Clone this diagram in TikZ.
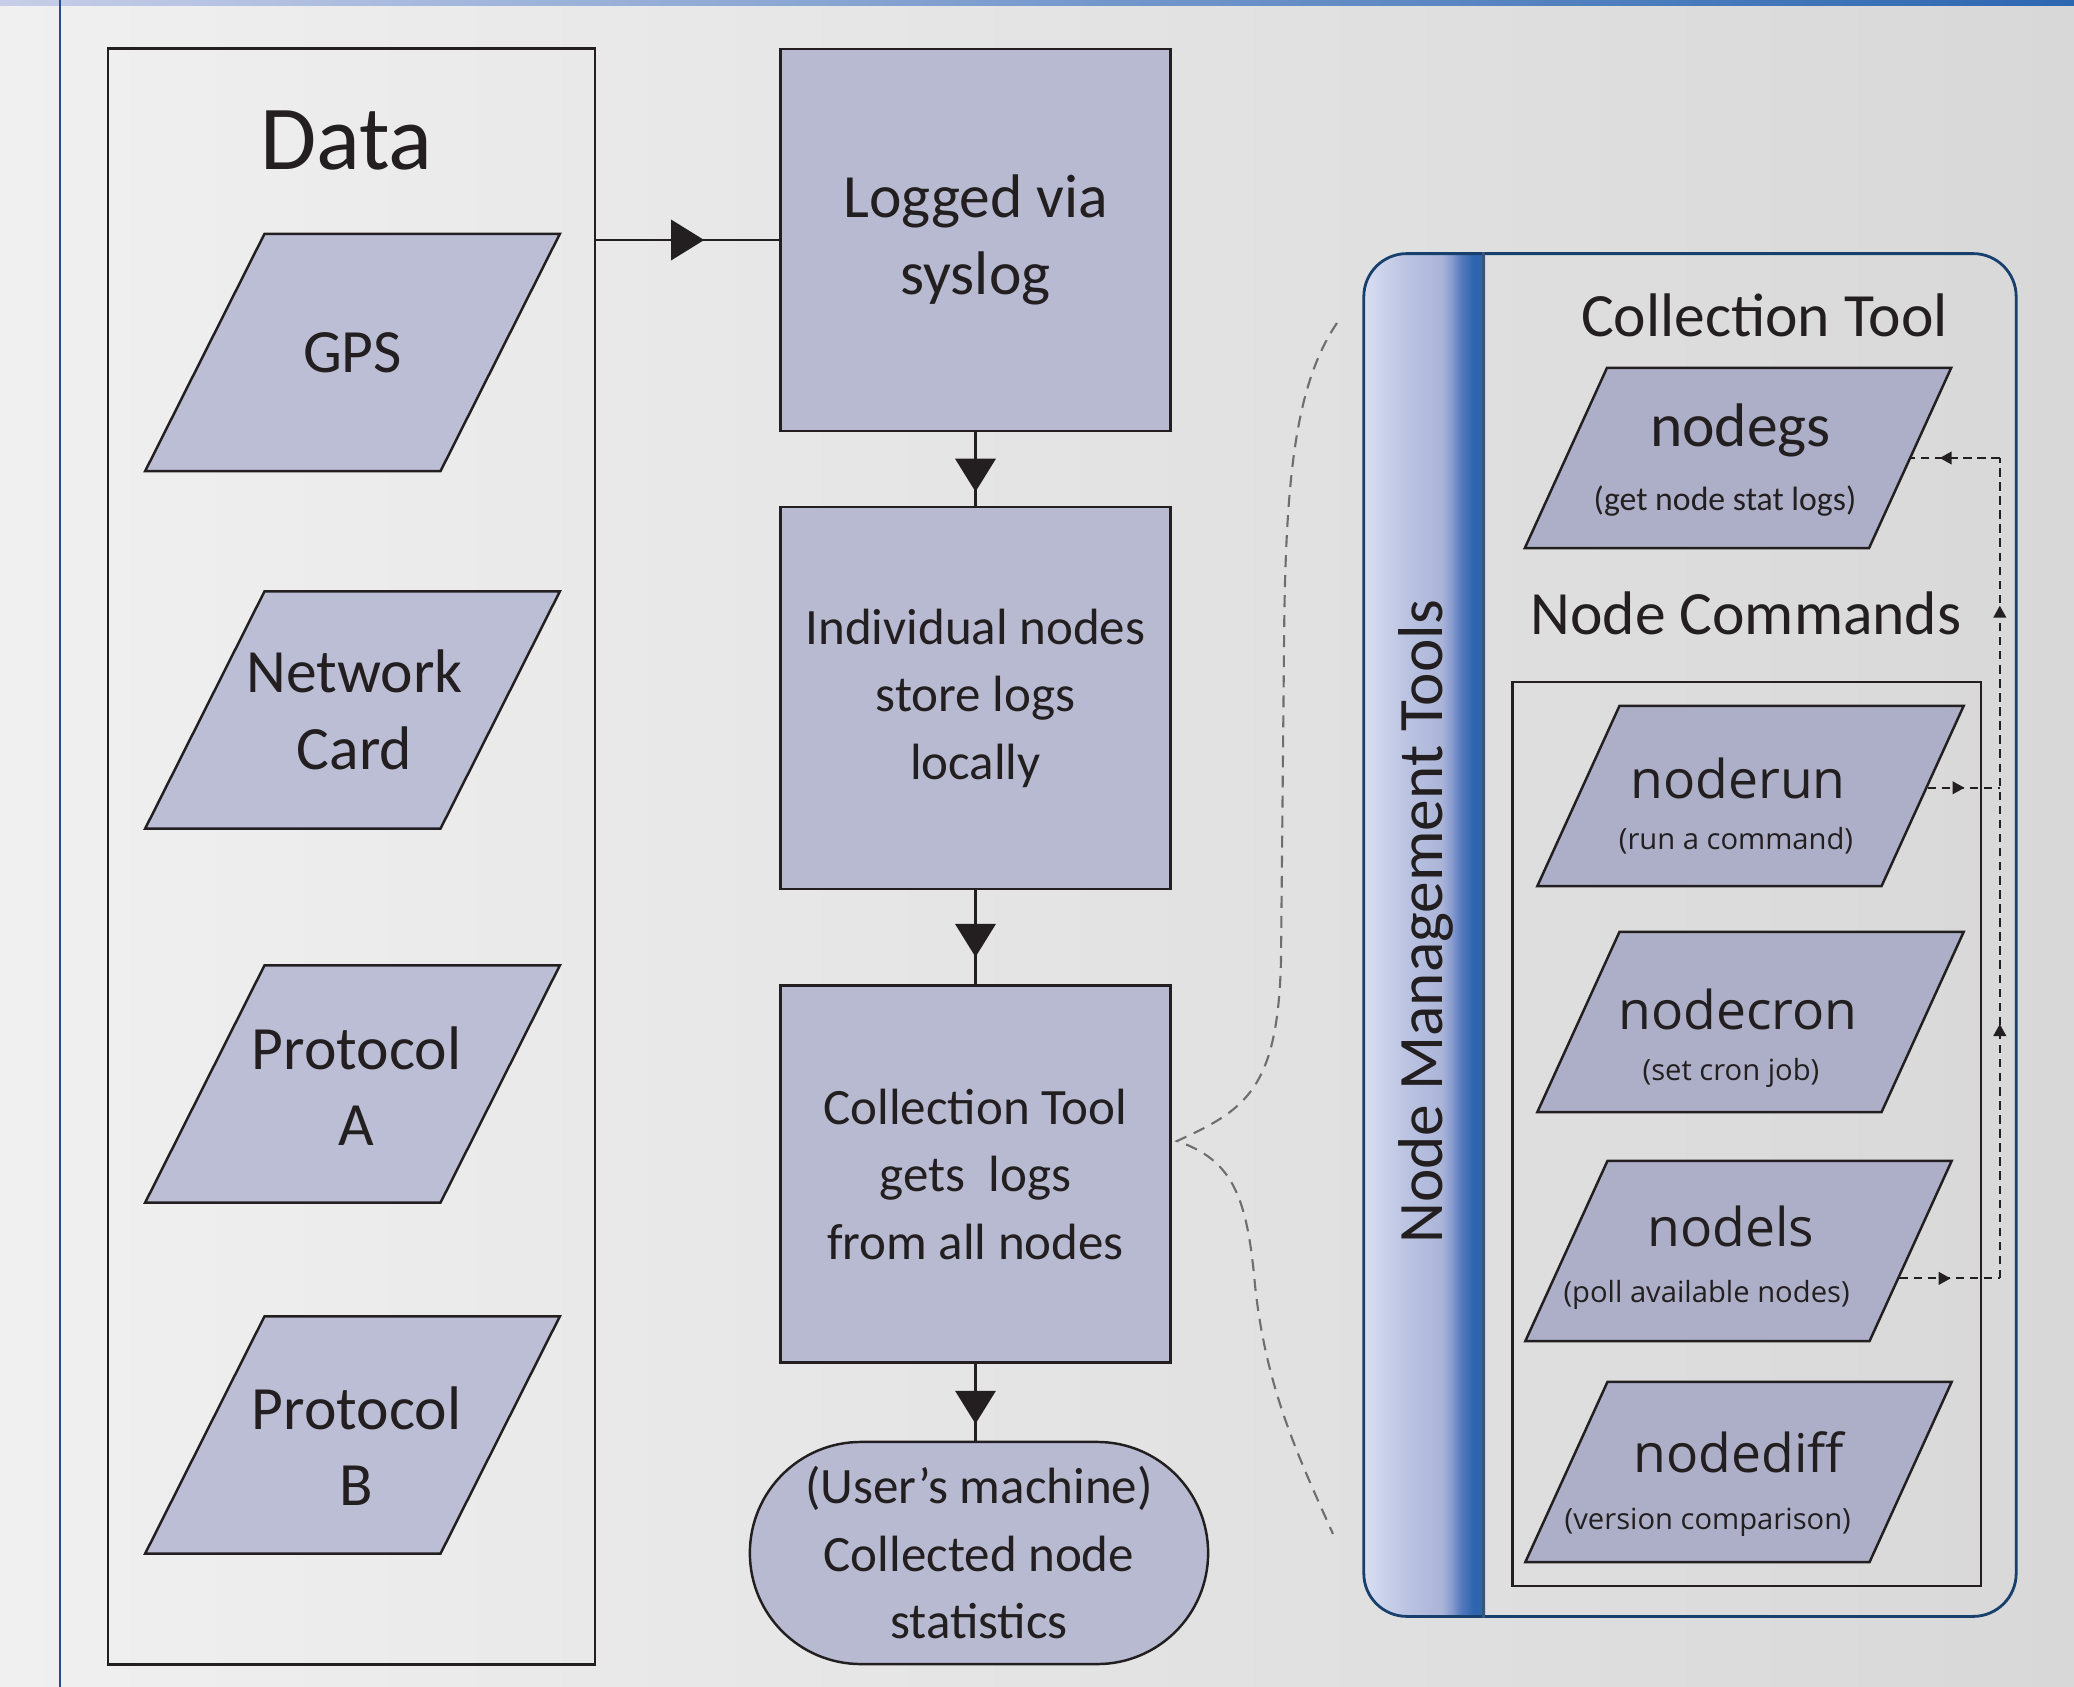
\documentclass[tikz,border=0pt]{standalone}
\usepackage{fontspec}
\setmainfont{Carlito}
\newfontfamily\cmdfont{Open Sans}
\usetikzlibrary{shapes.geometric,shapes.misc,arrows.meta,decorations.markings,calc}

% colours
\definecolor{bgleft}{HTML}{F0F0F0}
\definecolor{bgright}{HTML}{D8D8D8}
\definecolor{bandleft}{HTML}{C6CEE8}
\definecolor{bandright}{HTML}{2C67B1}
\definecolor{rimblue}{HTML}{2B4A8A}
\definecolor{ink}{HTML}{231F20}
\definecolor{datafill}{HTML}{BCBED5}
\definecolor{stepfill}{HTML}{B7BAD0}
\definecolor{cmdfill}{HTML}{ACAFC7}
\definecolor{panelrim}{HTML}{17406D}
\definecolor{stripA}{HTML}{D9DEF1}
\definecolor{stripB}{HTML}{BCC4E2}
\definecolor{stripC}{HTML}{ABB5D8}
\definecolor{stripD}{HTML}{8A9DD0}
\definecolor{stripE}{HTML}{5779BD}
\definecolor{stripF}{HTML}{2F65AF}
\definecolor{stripedge}{HTML}{3B5578}
\definecolor{bracegray}{HTML}{6E6E6E}

\pgfdeclarehorizontalshading{mgmtstrip}{100bp}{%
  color(0bp)=(stripA); color(25bp)=(stripA); color(42bp)=(stripB);
  color(57bp)=(stripC); color(61bp)=(stripD); color(65bp)=(stripE);
  color(70bp)=(stripF); color(75bp)=(stripF); color(100bp)=(stripF)}

\begin{document}
\begin{tikzpicture}[
    x=0.01cm, y=-0.01cm,
    txt/.style={text=ink, inner sep=0pt},
    heading/.style={txt, font=\fontsize{17.5}{21}\selectfont},
    databox/.style={draw=ink, line width=0.6pt, minimum width=4.865cm,
      minimum height=16.15cm, inner sep=0pt},
    dataitem/.style={trapezium, trapezium left angle=63.3,
      trapezium right angle=116.7, inner xsep=0.88cm, inner ysep=1.185cm,
      draw=ink, line width=0.7pt, fill=datafill},
    datatext/.style={txt, align=center, font=\fontsize{17.5}{21.8}\selectfont},
    stepbox/.style={draw=ink, line width=0.7pt, fill=stepfill, text=ink,
      minimum width=3.9cm, minimum height=3.82cm, align=center,
      font=\fontsize{14.5}{19.2}\selectfont},
    userbox/.style={rounded rectangle, draw=ink, line width=0.7pt,
      fill=stepfill, text=ink, minimum width=4.58cm, minimum height=2.22cm,
      inner sep=0pt, align=center, font=\fontsize{14.5}{19.2}\selectfont},
    cmditem/.style={trapezium, trapezium left angle=65.5,
      trapezium right angle=114.5, inner xsep=1.31cm, inner ysep=0.9cm,
      draw=ink, line width=0.7pt, fill=cmdfill},
    cmdname/.style={txt, anchor=base, font=\cmdfont\fontsize{15.2}{18}\selectfont},
    cmdnote/.style={txt, anchor=base, font=\cmdfont\fontsize{8.3}{10}\selectfont},
    cmdbox/.style={draw=ink, line width=0.6pt, minimum width=4.68cm,
      minimum height=9.035cm, inner sep=0pt},
    panelbox/.style={draw=panelrim, line width=0.8pt, rounded corners=4.3mm,
      minimum width=6.52cm, minimum height=13.62cm, inner sep=0pt},
    flow/.style={draw=ink, line width=0.6pt, postaction={decorate},
      decoration={markings, mark=at position #1 with
        {\arrow{Triangle[length=9.4pt, width=11.5pt]}}}},
    cmdlink/.style={draw=ink, line width=0.55pt, dash pattern=on 2.4pt off 1.6pt,
      postaction={decorate}, decoration={markings, mark=at position #1 with
        {\arrow{Triangle[length=3.4pt, width=3.6pt]}}}},
    bracecurve/.style={draw=bracegray, line width=0.6pt,
      dash pattern=on 3.4pt off 2.3pt},
  ]
  % page
  \useasboundingbox (0,0) rectangle (2074,1687);
  \shade[left color=bgleft, right color=bgright] (0,0) rectangle (2074,1687);
  \shade[left color=bandleft, right color=bandright] (0,0) rectangle (2074,5);
  \draw[rimblue, line width=0.7pt] (60,0) -- (60,1687);

  % data sources
  \node[databox] (data) at (351.75,856.5) {};
  \node[heading, font=\fontsize{26}{31}\selectfont, anchor=base] (datatitle) at (346.5,169) {Data};
  \node[dataitem] (gps) at (352.5,352.5) {};
  \node[dataitem] (netcard) at (352.5,710) {};
  \node[dataitem] (protoa) at (352.5,1084) {};
  \node[dataitem] (protob) at (352.5,1435) {};
  \node[datatext] (gpstext) at (gps) {GPS};
  \node[datatext] (netcardtext) at ($(netcard.center)+(2,0)$) {Network\\Card};
  \node[datatext] (protoatext) at ($(protoa.center)+(4,2)$) {Protocol\\A};
  \node[datatext] (protobtext) at ($(protob.center)+(4,11)$) {Protocol\\B};

  % logging steps
  \node[stepbox, font=\fontsize{17.5}{21.8}\selectfont] (syslog) at (975.5,240) {Logged via\\syslog};
  \node[stepbox] (local) at (975.5,698) {Individual nodes\\store logs\\locally};
  \node[stepbox, minimum height=3.77cm] (collect) at (975.5,1174) {Collection Tool\\gets\ \ logs\\from all nodes};
  \node[userbox] (user) at (979,1553) {(User's machine)\\Collected node\\statistics};

  \draw[flow=0.59] (data.east |- syslog.west) -- (syslog.west);
  \draw[flow=0.81] (syslog.south) -- (local.north);
  \draw[flow=0.71] (local.south) -- (collect.north);
  \draw[flow=0.78] (collect.south) -- (collect.south |- user.north);

  % brace towards the tools
  \coordinate (bracetop) at (1337,323);
  \coordinate (bracetip) at (1177,1141);
  \coordinate (bracebot) at (1333,1534);
  \draw[bracecurve] (bracetop) .. controls (1295,385) and (1285,480) .. (1284,650)
    -- (1281,960) .. controls (1278,1090) and (1245,1110) .. (bracetip)
    .. controls (1232,1160) and (1247,1195) .. (1255,1285)
    .. controls (1266,1390) and (1300,1460) .. (bracebot);

  % management panel
  \begin{scope}
    \clip[rounded corners=4.3mm] (1364,254) rectangle (2016,1616);
    \shade[shading=mgmtstrip] (1364,254) rectangle (1485,1616);
  \end{scope}
  \node[panelbox] (mgmt) at (1690,935) {};
  \draw[stripedge, line width=0.6pt] ([xshift=1.21cm]mgmt.north west) -- ([xshift=1.21cm]mgmt.south west);
  \node[heading, font=\fontsize{18}{21}\selectfont, rotate=90, anchor=base] (mgmttitle) at (1442,922) {Node Management Tools};

  \node[heading, anchor=base] (colltitle) at (1764.5,336.5) {Collection Tool};
  \node[cmditem] (gs) at (1738,458) {};
  \node[txt, anchor=base, font=\fontsize{17.5}{21}\selectfont] (gsname) at (1740.6,446.7) {nodegs};
  \node[txt, anchor=base, font=\fontsize{9.6}{11}\selectfont] (gsnote) at (1725,510) {(get node stat logs)};

  \node[heading, anchor=base] (cmdtitle) at (1746,634) {Node Commands};
  \node[cmdbox] (cmds) at (1746.6,1134.25) {};
  \node[cmditem] (run) at (1750.5,796) {};
  \node[cmditem] (cron) at (1750.5,1022) {};
  \node[cmditem] (ls) at (1738.5,1251) {};
  \node[cmditem] (diff) at (1738.5,1472) {};
  \node[cmdname] (runname) at (1738,798.7) {noderun};
  \node[cmdnote] (runnote) at (1736,849.8) {(run a command)};
  \node[cmdname] (cronname) at (1738,1029) {nodecron};
  \node[cmdnote] (cronnote) at (1731,1080) {(set cron job)};
  \node[cmdname] (lsname) at (1731,1246.8) {nodels};
  \node[cmdnote] (lsnote) at (1706.6,1302) {(poll available nodes)};
  \node[cmdname] (diffname) at (1739,1472) {nodediff};
  \node[cmdnote] (diffnote) at (1707.8,1529.6) {(version comparison)};

  % command links
  \coordinate (lsout) at ($(ls.bottom right corner)!0.35!(ls.top right corner)$);
  \coordinate (runout) at ($(run.bottom right corner)!0.545!(run.top right corner)$);
  \coordinate (railbot) at ([xshift=0.18cm]cmds.east |- lsout);
  \draw[cmdlink=0.51] (lsout) -- (railbot);
  \draw[draw=ink, line width=0.55pt, dash pattern=on 2.4pt off 1.6pt,
    postaction={decorate}, decoration={markings,
      mark=at position 0.31 with {\arrow{Triangle[length=3.4pt, width=3.6pt]}},
      mark=at position 0.82 with {\arrow{Triangle[length=3.4pt, width=3.6pt]}}}]
    (railbot) -- (railbot |- gs.east);
  \draw[cmdlink=0.68] (railbot |- gs.east) -- (gs.east);
  \draw[cmdlink=0.51] (runout) -- (runout -| railbot);
\end{tikzpicture}
\end{document}
